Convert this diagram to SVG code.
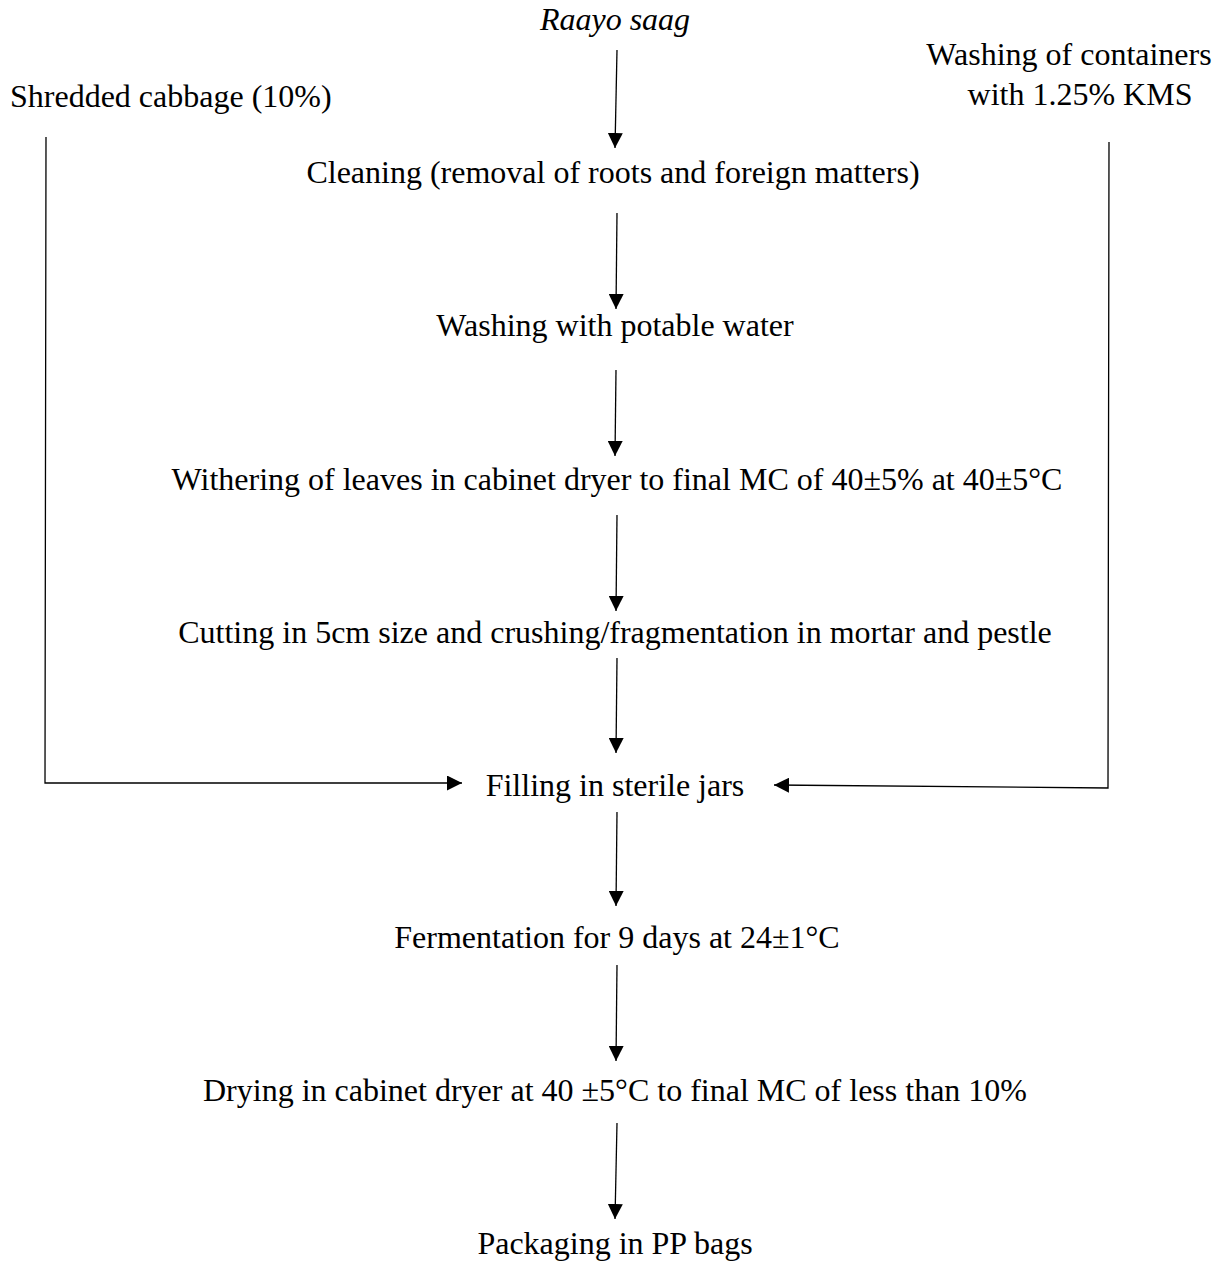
<svg xmlns="http://www.w3.org/2000/svg" width="1223" height="1264" viewBox="0 0 1223 1264">
<style>
text{font-family:"Liberation Serif","Times New Roman",serif;font-size:32px;fill:#000}
.c{text-anchor:middle}
.ln{stroke:#000;stroke-width:1.3;fill:none}
</style>
<defs>
<marker id="ah" markerUnits="userSpaceOnUse" markerWidth="16" markerHeight="15" refX="15" refY="7.5" orient="auto">
<path d="M0,0 L15,7.5 L0,15 Z" fill="#000"/>
</marker>
</defs>
<rect width="1223" height="1264" fill="#fff"/>
<g id="n-raayo"><text class="c" x="615" y="30" font-style="italic">Raayo saag</text></g>
<g id="n-cabbage"><text x="10" y="107">Shredded cabbage (10%)</text></g>
<g id="n-containers"><text class="c" x="1069" y="65">Washing of containers</text><text class="c" x="1080" y="105">with 1.25% KMS</text></g>
<g id="n-cleaning"><text class="c" x="613" y="183">Cleaning (removal of roots and foreign matters)</text></g>
<g id="n-washing"><text class="c" x="615" y="336">Washing with potable water</text></g>
<g id="n-withering"><text class="c" x="617" y="490">Withering of leaves in cabinet dryer to final MC of 40±5% at 40±5°C</text></g>
<g id="n-cutting"><text class="c" x="615" y="643">Cutting in 5cm size and crushing/fragmentation in mortar and pestle</text></g>
<g id="n-filling"><text class="c" x="615" y="796">Filling in sterile jars</text></g>
<g id="n-fermentation"><text class="c" x="617" y="948">Fermentation for 9 days at 24±1°C</text></g>
<g id="n-drying"><text class="c" x="615" y="1101">Drying in cabinet dryer at 40 ±5°C to final MC of less than 10%</text></g>
<g id="n-packaging"><text class="c" x="615" y="1254">Packaging in PP bags</text></g>
<g id="connectors" class="ln">
<line class="ln" x1="617" y1="50" x2="615" y2="148" marker-end="url(#ah)"/>
<line class="ln" x1="617" y1="213" x2="616" y2="309" marker-end="url(#ah)"/>
<line class="ln" x1="616" y1="370" x2="615" y2="456" marker-end="url(#ah)"/>
<line class="ln" x1="617" y1="515" x2="616" y2="611" marker-end="url(#ah)"/>
<line class="ln" x1="617" y1="658" x2="616" y2="753" marker-end="url(#ah)"/>
<line class="ln" x1="617" y1="812" x2="616" y2="906" marker-end="url(#ah)"/>
<line class="ln" x1="617" y1="965" x2="616" y2="1061" marker-end="url(#ah)"/>
<line class="ln" x1="617" y1="1123" x2="615" y2="1219" marker-end="url(#ah)"/>
<polyline class="ln" points="46,137 45,783 462,783" marker-end="url(#ah)"/>
<polyline class="ln" points="1109,142 1108,788 774,785" marker-end="url(#ah)"/>
</g>
</svg>
